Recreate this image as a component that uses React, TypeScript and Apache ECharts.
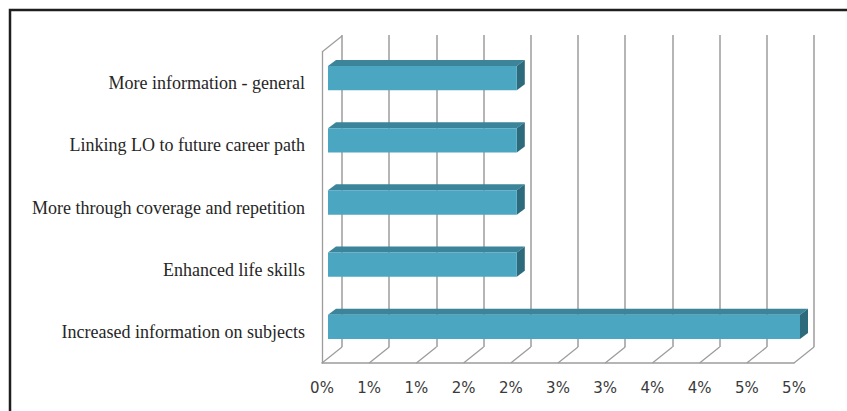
import React, { useEffect, useRef } from "react";
import * as echarts from "echarts";

const categories = [
  "Increased information on subjects",
  "Enhanced life skills",
  "More through coverage and repetition",
  "Linking LO to future career path",
  "More information - general",
];
const values = [5, 2, 2, 2, 2];
const tickValues = [0, 0.5, 1, 1.5, 2, 2.5, 3, 3.5, 4, 4.5, 5];
const xTickLabels = ["0%", "1%", "1%", "2%", "2%", "3%", "3%", "4%", "4%", "5%", "5%"];

const WALL_DX = 20;
const WALL_DY = 16;
const BAR_OX = 6;
const BAR_OY = -5;
const BAR_DX = 8;
const BAR_DY = -6;
const GRID_COLOR = "#9c9c9c";

export default function App() {
  const ref = useRef<HTMLDivElement>(null);
  useEffect(() => {
    if (!ref.current) return;
    const chart = echarts.init(ref.current, undefined, { renderer: "svg" });
    const option: any = {
      animation: false,
      backgroundColor: "#ffffff",
      grid: [
        { left: 342, top: 35, width: 472, height: 312, containLabel: false },
        { left: 322, top: 52, width: 472, height: 311, containLabel: false },
      ],
      xAxis: [
        {
          gridIndex: 0,
          type: "value",
          min: 0,
          max: 5,
          interval: 0.5,
          axisLine: { show: false },
          axisTick: { show: false },
          axisLabel: { show: false },
          splitLine: { show: true, lineStyle: { color: GRID_COLOR, width: 1.5 } },
        },
        {
          gridIndex: 1,
          type: "value",
          min: 0,
          max: 5,
          interval: 0.5,
          axisLine: { show: true, lineStyle: { color: GRID_COLOR, width: 1.5 } },
          axisTick: { show: false },
          splitLine: { show: false },
          axisLabel: {
            margin: 17,
            color: "#3a3a3a",
            fontFamily: "DejaVu Sans",
            fontSize: 15,
            formatter: (_v: number, i: number) => xTickLabels[i] ?? "",
          },
        },
      ],
      yAxis: [
        {
          gridIndex: 0,
          type: "category",
          data: categories,
          axisLine: { show: false },
          axisTick: { show: false },
          axisLabel: { show: false },
          splitLine: { show: false },
        },
        {
          gridIndex: 1,
          type: "category",
          data: categories,
          axisLine: { show: true, lineStyle: { color: GRID_COLOR, width: 1.3 } },
          axisTick: { show: false },
          splitLine: { show: false },
          axisLabel: {
            margin: 17,
            color: "#262626",
            fontFamily: "'Liberation Serif', 'DejaVu Serif', serif",
            fontSize: 18,
          },
        },
      ],
      series: [
        {
          type: "custom",
          name: "floor",
          xAxisIndex: 1,
          yAxisIndex: 1,
          silent: true,
          encode: { x: 0, y: 1 },
          data: tickValues.map((v) => [v, 0]),
          renderItem: (params: any, api: any) => {
            const cs = params.coordSys;
            const x = api.coord([api.value(0), 0])[0];
            const yb = cs.y + cs.height;
            const children: any[] = [
              {
                type: "line",
                shape: { x1: x, y1: yb, x2: x + WALL_DX, y2: yb - WALL_DY },
                style: { stroke: GRID_COLOR, lineWidth: 1.3 },
              },
            ];
            if (params.dataIndex === 0) {
              children.push({
                type: "line",
                shape: { x1: cs.x, y1: cs.y, x2: cs.x + WALL_DX, y2: cs.y - WALL_DY },
                style: { stroke: GRID_COLOR, lineWidth: 1.3 },
              });
            }
            return { type: "group", children };
          },
          z: 1,
        },
        {
          type: "custom",
          name: "bars",
          xAxisIndex: 1,
          yAxisIndex: 1,
          encode: { x: 0, y: 1 },
          data: values.map((v, i) => [v, i]),
          renderItem: (_params: any, api: any) => {
            const cat = api.value(1);
            const s = api.coord([0, cat]);
            const e = api.coord([api.value(0), cat]);
            const band = api.size([0, 1])[1];
            const h = band * 0.39;
            const x0 = s[0] + BAR_OX;
            const x1 = e[0] + BAR_OX;
            const yt = s[1] + BAR_OY - h / 2;
            const yb = s[1] + BAR_OY + h / 2;
            return {
              type: "group",
              children: [
                {
                  type: "polygon",
                  shape: {
                    points: [
                      [x0, yt],
                      [x1, yt],
                      [x1 + BAR_DX, yt + BAR_DY],
                      [x0 + BAR_DX, yt + BAR_DY],
                    ],
                  },
                  style: { fill: "#3b8499" },
                },
                {
                  type: "polygon",
                  shape: {
                    points: [
                      [x1, yt],
                      [x1 + BAR_DX, yt + BAR_DY],
                      [x1 + BAR_DX, yb + BAR_DY],
                      [x1, yb],
                    ],
                  },
                  style: { fill: "#2d6a7c" },
                },
                {
                  type: "rect",
                  shape: { x: x0, y: yt, width: x1 - x0, height: yb - yt },
                  style: { fill: "#4ba6c2" },
                },
              ],
            };
          },
          z: 3,
        },
      ],
      graphic: [
        {
          type: "polyline",
          shape: { points: [[10, 411], [10, 10], [847, 10]] },
          style: { stroke: "#1e1e1e", lineWidth: 2.5, fill: "none" },
          z: 10,
        },
      ],
    };
    chart.setOption(option);
    return () => chart.dispose();
  }, []);
  return (
    <div
      ref={ref}
      style={{ position: "absolute", left: 0, top: 0, width: 847, height: 411 }}
    />
  );
}
